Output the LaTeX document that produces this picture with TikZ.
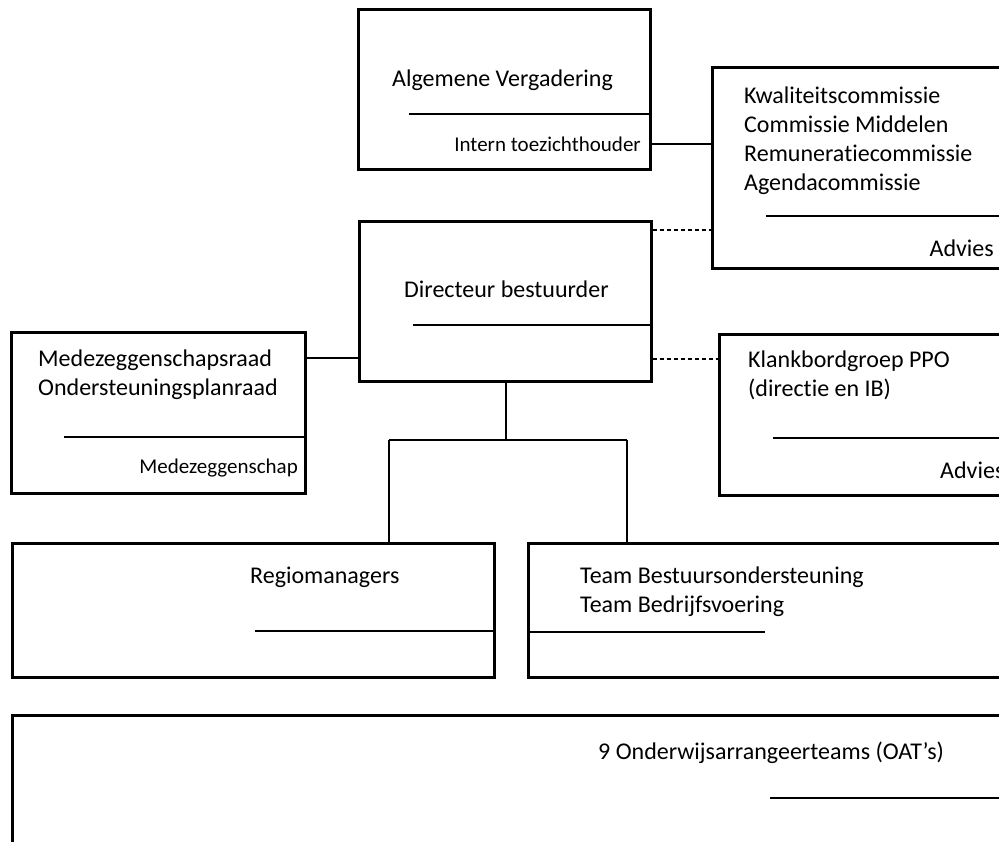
\documentclass[tikz,border=0pt]{standalone}
\usepackage{fontspec}
\setmainfont[Ligatures=NoCommon]{Carlito}
\begin{document}
\begin{tikzpicture}[x=1pt,y=-1pt,
  box/.style={draw, line width=2.6pt, anchor=north west, inner sep=0pt},
  sep/.style={line width=1.1pt},
  conn/.style={line width=1.1pt},
  dconn/.style={line width=1.1pt, dash pattern=on 4pt off 3pt},
  big/.style={font=\fontsize{24}{29}\selectfont, inner sep=0pt, anchor=base west},
  small/.style={font=\fontsize{21}{25}\selectfont, inner sep=0pt, anchor=base east}]
\useasboundingbox (0,0) rectangle (999,841);
\clip (0,0) rectangle (999,841);
\fill[white] (0,0) rectangle (999,841);
% boxes
\node[box, minimum width=292pt, minimum height=160pt] (av) at (357,8) {};
\node[box, minimum width=300pt, minimum height=201pt] (kc) at (711,66) {};
\node[box, minimum width=292pt, minimum height=160pt] (db) at (358,220) {};
\node[box, minimum width=294pt, minimum height=161pt] (mr) at (10,331) {};
\node[box, minimum width=300pt, minimum height=161pt] (kb) at (718,333) {};
\node[box, minimum width=482pt, minimum height=134pt] (rm) at (11,542) {};
\node[box, minimum width=480pt, minimum height=134pt] (tb) at (527,542) {};
\node[box, minimum width=1000pt, minimum height=140pt] (oat) at (11,714) {};
% texts
\node[big] (t1) at (392,86) {Algemene Vergadering};
\node[small] (t2) at (641,151) {Intern toezichthouder};
\node[big] (t3) at (744,103) {Kwaliteitscommissie};
\node[big] (t4) at (744,132) {Commissie Middelen};
\node[big] (t5) at (744,161) {Remuneratiecommissie};
\node[big] (t6) at (744,190) {Agendacommissie};
\node[big, anchor=base east] (t7) at (994,256) {Advies};
\node[big] (t8) at (404,297) {Directeur bestuurder};
\node[big] (t9) at (38,366) {Medezeggenschapsraad};
\node[big] (t10) at (38,395) {Ondersteuningsplanraad};
\node[small] (t11) at (298,473) {Medezeggenschap};
\node[big] (t12) at (748,367) {Klankbordgroep PPO};
\node[big] (t13) at (748,396) {(directie en IB)};
\node[big] (t14) at (940,478) {Advies};
\node[big] (t15) at (250,583) {Regiomanagers};
\node[big] (t16) at (580,583) {Team Bestuursondersteuning};
\node[big] (t17) at (580,612) {Team Bedrijfsvoering};
\node[big] (t18) at (598,759) {9 Onderwijsarrangeerteams (OAT’s)};
% separator lines
\draw[sep] (409,114) -- (av.east |- 0,114);
\draw[sep] (766,216) -- (1000,216);
\draw[sep] (413,325) -- (db.east |- 0,325);
\draw[sep] (64,437) -- (mr.east |- 0,437);
\draw[sep] (773,438) -- (1000,438);
\draw[sep] (255,631) -- (rm.east |- 0,631);
\draw[sep] (tb.west |- 0,632) -- (765,632);
\draw[sep] (770,798) -- (1000,798);
% connectors
\draw[conn] (av.east |- 0,144) -- (kc.west |- 0,144);
\draw[dconn] (db.east |- 0,230) -- (kc.west |- 0,230);
\draw[dconn] (db.east |- 0,359) -- (kb.west |- 0,359);
\draw[conn] (mr.east |- 0,358) -- (db.west |- 0,358);
\coordinate (jl) at (389,440);
\coordinate (jr) at (627,440);
\draw[conn] (db.south -| 506,0) -- (506,440);
\draw[conn] (jl) -- (jr);
\draw[conn] (jl) -- (rm.north -| jl);
\draw[conn] (jr) -- (tb.north -| jr);
\end{tikzpicture}
\end{document}
